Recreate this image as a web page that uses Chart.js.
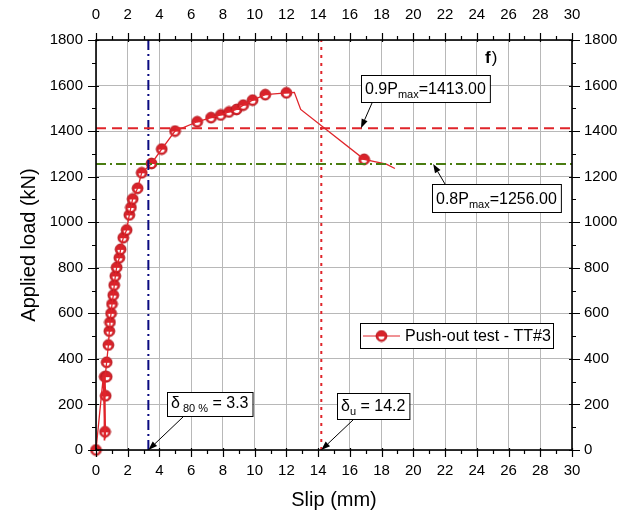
<!DOCTYPE html>
<html>
<head>
<meta charset="utf-8">
<script src="https://cdn.jsdelivr.net/npm/chart.js@4"></script>
<style>
  html, body { margin: 0; padding: 0; background: #fff; }
  #wrap { width: 632px; height: 513px; }
</style>
</head>
<body>
<div id="wrap"><canvas id="pushChart" width="632" height="513"></canvas></div>
<script>
// ── data ──
// full test record (incl. the unloading cycles near 0.5 mm)
const curveSlip = [0, 0.46, 0.55, 0.52, 0.58, 0.55, 0.60, 0.53, 0.57, 0.56, 0.61, 0.58, 0.67, 0.78, 0.84, 0.88, 0.95, 1.01, 1.09, 1.15, 1.22, 1.30, 1.47, 1.55, 1.72, 1.93, 2.10, 2.20, 2.31, 2.62, 2.88, 3.50, 4.14, 4.98, 6.38, 7.25, 7.86, 8.38, 8.86, 9.28, 9.87, 10.67, 12.0, 12.5, 12.9, 16.9, 18.3, 18.84];
const curveLoad = [0, 322, 45, 322, 60, 322, 50, 322, 75, 322, 238, 322, 385, 461, 522, 561, 600, 641, 680, 724, 764, 802, 844, 881, 932, 966, 1032, 1065, 1102, 1149, 1217, 1258, 1321, 1400, 1441, 1459, 1471, 1484, 1495, 1514, 1536, 1560, 1568, 1570, 1495, 1276, 1255, 1236];
// points drawn with symbols
const markSlip = [0, 0.57, 0.61, 0.55, 0.67, 0.67, 0.78, 0.84, 0.88, 0.95, 1.01, 1.09, 1.15, 1.22, 1.30, 1.47, 1.55, 1.72, 1.93, 2.10, 2.20, 2.31, 2.62, 2.88, 3.50, 4.14, 4.98, 6.38, 7.25, 7.86, 8.38, 8.86, 9.28, 9.87, 10.67, 12.0, 16.9];
const markLoad = [0, 80, 238, 322, 322, 385, 461, 522, 561, 600, 641, 680, 724, 764, 802, 844, 881, 932, 966, 1032, 1065, 1102, 1149, 1217, 1258, 1321, 1400, 1441, 1459, 1471, 1484, 1495, 1514, 1536, 1560, 1568, 1276];

const p09 = 1413.00;   // 0.9 Pmax
const p08 = 1256.00;   // 0.8 Pmax
const d80 = 3.3;       // delta 80%
const du = 14.2;       // delta u

const xTicks = [0, 30, 2];     // min, max, step
const yTicks = [0, 1800, 200];

const RED = '#e0242a';
const FONT = "'Liberation Sans', Arial, sans-serif";

Chart.defaults.font.family = FONT;
Chart.defaults.color = '#000';

function toXY(xs, ys) { return xs.map((x, i) => ({ x: x, y: ys[i] })); }

// half-filled circle symbol like the Origin plot
function makeMarker(r) {
    const c = document.createElement('canvas');
    const s = Math.ceil(r * 2 + 2);
    c.width = s; c.height = s;
    const g = c.getContext('2d');
    const cx = s / 2;
    g.beginPath(); g.arc(cx, cx, r, 0, Math.PI * 2);
    g.fillStyle = '#d8222a'; g.fill();
    g.lineWidth = 1; g.strokeStyle = '#b3161c'; g.stroke();
    g.beginPath(); g.arc(cx, cx + 0.6, r * 0.55, 0, Math.PI); g.closePath();
    g.fillStyle = '#fff'; g.fill();
    return c;
}
const marker = makeMarker(5.4);

// text with subscripts
function drawRich(ctx, x, y, parts) {
    let cx = x;
    parts.forEach(p => {
        ctx.font = p.sub ? '11px ' + FONT : '16px ' + FONT;
        ctx.fillText(p.t, cx, p.sub ? y + 4 : y);
        cx += ctx.measureText(p.t).width;
    });
    return cx - x;
}
function measureRich(ctx, parts) {
    let w = 0;
    parts.forEach(p => {
        ctx.font = p.sub ? '11px ' + FONT : '16px ' + FONT;
        w += ctx.measureText(p.t).width;
    });
    return w;
}

function arrow(ctx, x1, y1, x2, y2) {
    const a = Math.atan2(y2 - y1, x2 - x1);
    const L = 9, W = 3.2;
    ctx.strokeStyle = '#000'; ctx.fillStyle = '#000'; ctx.lineWidth = 1;
    ctx.beginPath();
    ctx.moveTo(x1, y1);
    ctx.lineTo(x2 - Math.cos(a) * L, y2 - Math.sin(a) * L);
    ctx.stroke();
    ctx.beginPath();
    ctx.moveTo(x2, y2);
    ctx.lineTo(x2 - Math.cos(a) * L - Math.sin(a) * W, y2 - Math.sin(a) * L + Math.cos(a) * W);
    ctx.lineTo(x2 - Math.cos(a) * L + Math.sin(a) * W, y2 - Math.sin(a) * L - Math.cos(a) * W);
    ctx.closePath();
    ctx.fill();
}

function labelBox(ctx, left, top, h, parts) {
    const w = measureRich(ctx, parts) + 8;
    ctx.fillStyle = '#fff';
    ctx.fillRect(left, top, w, h);
    ctx.strokeStyle = '#000'; ctx.lineWidth = 1;
    ctx.strokeRect(left + 0.5, top + 0.5, w, h);
    ctx.fillStyle = '#000';
    ctx.textBaseline = 'alphabetic';
    ctx.textAlign = 'left';
    drawRich(ctx, left + 4, top + h - 8, parts);
}

// frame, in/out ticks, legend, call-outs
const decorPlugin = {
    id: 'decor',
    afterDraw(chart) {
        const { ctx, chartArea: a, scales } = chart;
        const xs = scales.x, ys = scales.y;
        ctx.save();

        // tick marks (major + minor) on all four sides
        ctx.strokeStyle = '#000'; ctx.lineWidth = 1.2;
        ctx.beginPath();
        for (let v = xTicks[0]; v <= xTicks[1]; v += xTicks[2] / 2) {
            const px = Math.round(xs.getPixelForValue(v)) + 0.5;
            const major = Math.abs(v / xTicks[2] - Math.round(v / xTicks[2])) < 1e-6;
            const out = major ? 7 : 4, inn = major ? 2 : 0;
            ctx.moveTo(px, a.bottom - inn); ctx.lineTo(px, a.bottom + out);
            ctx.moveTo(px, a.top + inn); ctx.lineTo(px, a.top - out);
        }
        for (let v = yTicks[0]; v <= yTicks[1]; v += yTicks[2] / 2) {
            const py = Math.round(ys.getPixelForValue(v)) + 0.5;
            const major = (v % yTicks[2]) === 0;
            const out = major ? 8 : 4, inn = major ? 3 : 0;
            ctx.moveTo(a.left + inn, py); ctx.lineTo(a.left - out, py);
            ctx.moveTo(a.right - inn, py); ctx.lineTo(a.right + out, py);
        }
        ctx.stroke();

        // frame
        ctx.lineWidth = 1.6;
        ctx.strokeRect(a.left, a.top, a.right - a.left, a.bottom - a.top);

        // panel letter
        ctx.fillStyle = '#000';
        ctx.textBaseline = 'alphabetic';
        ctx.font = 'bold 17px ' + FONT;
        ctx.fillText('f', 485, 63);
        const fw = ctx.measureText('f').width;
        ctx.font = '17px ' + FONT;
        ctx.fillText(')', 485 + fw + 1, 63);

        // legend
        const lx = 360, ly = 323, lw = 193, lh = 25;
        ctx.fillStyle = '#fff';
        ctx.fillRect(lx, ly, lw, lh);
        ctx.strokeStyle = '#000'; ctx.lineWidth = 1;
        ctx.strokeRect(lx + 0.5, ly + 0.5, lw, lh);
        ctx.strokeStyle = RED; ctx.lineWidth = 1;
        ctx.beginPath(); ctx.moveTo(lx + 3, ly + 13); ctx.lineTo(lx + 40, ly + 13); ctx.stroke();
        ctx.drawImage(marker, lx + 21.5 - marker.width / 2, ly + 13 - marker.height / 2);
        ctx.fillStyle = '#000';
        ctx.font = '16px ' + FONT;
        ctx.textBaseline = 'middle';
        ctx.fillText('Push-out test - TT#3', lx + 45, ly + 14);

        // call-outs
        labelBox(ctx, 361, 75, 27, [{ t: '0.9P' }, { t: 'max', sub: true }, { t: '=' + p09.toFixed(2) }]);
        arrow(ctx, 372, 103, xs.getPixelForValue(16.7), ys.getPixelForValue(p09));

        labelBox(ctx, 432, 184, 28, [{ t: '0.8P' }, { t: 'max', sub: true }, { t: '=' + p08.toFixed(2) }]);
        arrow(ctx, 445, 184, xs.getPixelForValue(21.25), ys.getPixelForValue(p08));

        labelBox(ctx, 167, 392, 24, [{ t: 'δ' }, { t: ' 80 %', sub: true }, { t: ' = ' + d80 }]);
        arrow(ctx, 183, 417, xs.getPixelForValue(d80), ys.getPixelForValue(0));

        labelBox(ctx, 337, 393, 26, [{ t: 'δ' }, { t: 'u', sub: true }, { t: ' = ' + du }]);
        arrow(ctx, 353, 420, xs.getPixelForValue(du), ys.getPixelForValue(0));

        ctx.restore();
    }
};

const tickFont = { size: 15, family: FONT };
const plain = v => String(v);

function fixSize(prop, val) {
    return function (scale) { scale[prop] = val; };
}

new Chart(document.getElementById('pushChart').getContext('2d'), {
    type: 'line',
    data: {
        datasets: [
            {
                label: '0.9Pmax',
                data: [{ x: xTicks[0], y: p09 }, { x: xTicks[1], y: p09 }],
                borderColor: RED, borderWidth: 2, borderDash: [10, 6],
                pointRadius: 0, fill: false
            },
            {
                label: '0.8Pmax',
                data: [{ x: xTicks[0], y: p08 }, { x: xTicks[1], y: p08 }],
                borderColor: '#4a7d12', borderWidth: 2, borderDash: [10, 4, 2, 4],
                pointRadius: 0, fill: false
            },
            {
                label: 'delta80',
                data: [{ x: d80, y: yTicks[0] }, { x: d80, y: yTicks[1] }],
                borderColor: '#0a0a80', borderWidth: 2, borderDash: [10, 4, 2, 4],
                pointRadius: 0, fill: false
            },
            {
                label: 'deltau',
                data: [{ x: du, y: yTicks[0] }, { x: du, y: yTicks[1] }],
                borderColor: RED, borderWidth: 2, borderDash: [3, 5],
                pointRadius: 0, fill: false
            },
            {
                label: 'curve',
                data: toXY(curveSlip, curveLoad),
                borderColor: RED, borderWidth: 1.3,
                pointRadius: 0, tension: 0, fill: false
            },
            {
                label: 'Push-out test - TT#3',
                data: toXY(markSlip, markLoad),
                showLine: false,
                pointStyle: marker, pointRadius: 5,
                clip: 8
            }
        ]
    },
    options: {
        responsive: false,
        animation: false,
        devicePixelRatio: 1,
        layout: { padding: 0 },
        plugins: { legend: { display: false }, tooltip: { enabled: false } },
        scales: {
            x: {
                type: 'linear', position: 'bottom',
                min: xTicks[0], max: xTicks[1],
                ticks: { stepSize: xTicks[2], font: tickFont, padding: 12, maxRotation: 0, callback: plain },
                grid: { color: '#b8b8b8', lineWidth: 1, drawTicks: false },
                border: { display: false },
                title: { display: true, text: 'Slip (mm)', font: { size: 20, family: FONT }, padding: { top: 0, bottom: 1 } },
                afterFit: fixSize('height', 63)
            },
            x2: {
                type: 'linear', position: 'top',
                min: xTicks[0], max: xTicks[1],
                ticks: { stepSize: xTicks[2], font: tickFont, padding: 16, maxRotation: 0, callback: plain },
                grid: { display: false, drawTicks: false },
                border: { display: false },
                afterFit: fixSize('height', 40)
            },
            y: {
                type: 'linear', position: 'left',
                min: yTicks[0], max: yTicks[1],
                ticks: { stepSize: yTicks[2], font: tickFont, padding: 13, callback: plain },
                grid: { color: '#b8b8b8', lineWidth: 1, drawTicks: false },
                border: { display: false },
                title: { display: true, text: 'Applied load (kN)', font: { size: 20, family: FONT }, padding: { top: 17, bottom: 0 } },
                afterFit: fixSize('width', 96)
            },
            y2: {
                type: 'linear', position: 'right',
                min: yTicks[0], max: yTicks[1],
                ticks: { stepSize: yTicks[2], font: tickFont, padding: 12, callback: plain },
                grid: { display: false, drawTicks: false },
                border: { display: false },
                afterFit: fixSize('width', 60)
            }
        }
    },
    plugins: [decorPlugin]
});
</script>
</body>
</html>
